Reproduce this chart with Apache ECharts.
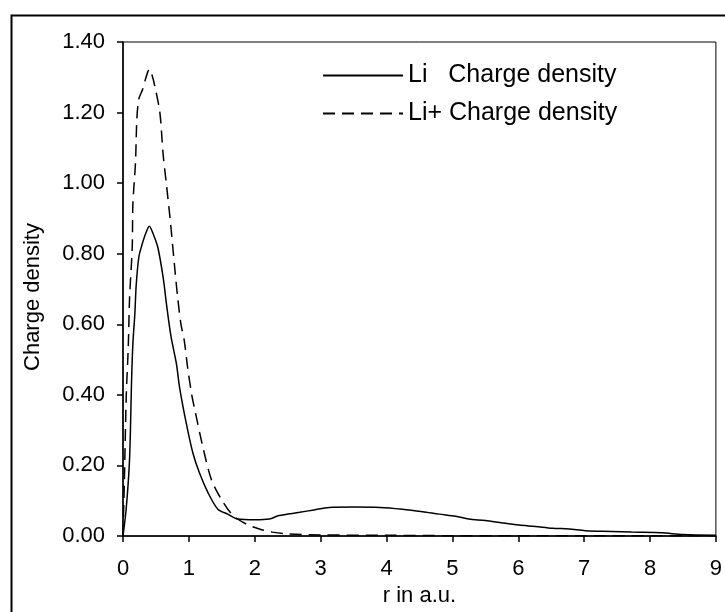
<!DOCTYPE html>
<html>
<head>
<meta charset="utf-8">
<script src="https://cdn.jsdelivr.net/npm/echarts@6/dist/echarts.min.js"></script>
<style>
html,body{margin:0;padding:0;background:#fff;}
#chart{width:725px;height:612px;}
</style>
</head>
<body>
<div id="chart"></div>
<script>
// ---- data ----
const liR = [0, 0.05, 0.1, 0.13, 0.15, 0.18, 0.2, 0.24, 0.28, 0.34, 0.4, 0.46, 0.53, 0.61, 0.66, 0.73, 0.81, 0.86, 0.96, 1.06, 1.16, 1.29, 1.44, 1.59, 1.74, 2.0, 2.22, 2.37, 2.68, 2.9, 3.13, 3.5, 3.9, 4.24, 4.55, 4.8, 5.05, 5.25, 5.5, 5.76, 6.01, 6.26, 6.52, 6.77, 7.02, 7.42, 7.72, 8.18, 8.5, 9.0];
const liV = [0, 0.08, 0.22, 0.44, 0.545, 0.63, 0.71, 0.79, 0.82, 0.855, 0.878, 0.855, 0.817, 0.732, 0.657, 0.564, 0.489, 0.42, 0.32, 0.236, 0.179, 0.123, 0.076, 0.062, 0.048, 0.046, 0.048, 0.058, 0.067, 0.074, 0.081, 0.082, 0.081, 0.076, 0.069, 0.062, 0.056, 0.048, 0.044, 0.037, 0.031, 0.027, 0.022, 0.020, 0.015, 0.013, 0.011, 0.009, 0.004, 0.002];

const liPlusR = [0, 0.02, 0.05, 0.08, 0.1, 0.14, 0.15, 0.19, 0.21, 0.24, 0.3, 0.35, 0.4, 0.45, 0.5, 0.56, 0.61, 0.66, 0.72, 0.78, 0.83, 0.88, 0.93, 0.98, 1.04, 1.09, 1.21, 1.34, 1.49, 1.67, 1.87, 2.07, 2.27, 2.48, 3, 4, 5, 6, 7, 8, 9];
const liPlusV = [0, 0.15, 0.40, 0.536, 0.676, 0.817, 0.94, 1.06, 1.18, 1.238, 1.267, 1.30, 1.323, 1.30, 1.26, 1.20, 1.08, 0.995, 0.89, 0.77, 0.676, 0.60, 0.554, 0.479, 0.404, 0.358, 0.254, 0.161, 0.105, 0.058, 0.034, 0.020, 0.011, 0.006, 0.003, 0.002, 0.001, 0.001, 0.001, 0.001, 0.0005];

const seriesNames = ['Li   Charge density', 'Li+ Charge density'];
const xTitle = 'r in a.u.';
const yTitle = 'Charge density';

const FONT = '"Liberation Sans", Arial, sans-serif';
const zip = (a, b) => a.map((x, i) => [x, b[i]]);

const chart = echarts.init(document.getElementById('chart'), null, {renderer: 'canvas'});
chart.setOption({
  animation: false,
  backgroundColor: '#fff',
  grid: {left: 123, top: 42, width: 593, height: 498, show: true, borderColor: '#000', borderWidth: 1, backgroundColor: 'transparent'},
  legend: {
    orient: 'vertical', left: 317, top: 58,
    itemWidth: 80, itemHeight: 14, itemGap: 13,
    itemStyle: {color: 'rgba(0,0,0,0)', borderWidth: 0, opacity: 0},
    textStyle: {fontFamily: FONT, fontSize: 25, color: '#000', lineHeight: 25},
    data: seriesNames
  },
  xAxis: {
    type: 'value', min: 0, max: 9, interval: 1,
    name: xTitle, nameLocation: 'middle', nameGap: 49,
    nameTextStyle: {fontFamily: FONT, fontSize: 22, color: '#000'},
    axisLine: {show: true, onZero: false, lineStyle: {color: '#000', width: 1.5}},
    axisTick: {show: true, inside: false, length: 6, lineStyle: {color: '#000', width: 1.5}},
    axisLabel: {fontFamily: FONT, fontSize: 22, color: '#000', margin: 22},
    splitLine: {show: false}
  },
  yAxis: {
    type: 'value', min: 0, max: 1.4, interval: 0.2,
    axisLine: {show: true, lineStyle: {color: '#000', width: 1.5}},
    axisTick: {show: true, inside: false, length: 6, lineStyle: {color: '#000', width: 1.5}},
    axisLabel: {fontFamily: FONT, fontSize: 22, color: '#000', margin: 18, formatter: v => v.toFixed(2)},
    splitLine: {show: false}
  },
  graphic: [
    {type: 'rect', left: 9, top: 13, shape: {width: 740, height: 640}, style: {fill: 'none', stroke: '#000', lineWidth: 2}, silent: true},
    {type: 'text', x: 33, y: 297, rotation: Math.PI / 2,
     style: {text: yTitle, fontFamily: FONT, fontSize: 22, fill: '#000', align: 'center', verticalAlign: 'middle'}}
  ],
  series: [
    {
      name: seriesNames[0], type: 'line', data: zip(liR, liV), showSymbol: false, symbol: 'none', smooth: 0.3,
      lineStyle: {color: '#000', width: 1.5, type: 'solid'}, itemStyle: {color: '#000'}
    },
    {
      name: seriesNames[1], type: 'line', data: zip(liPlusR, liPlusV), showSymbol: false, symbol: 'none', smooth: 0.3,
      lineStyle: {color: '#000', width: 1.5, type: [12, 7]}, itemStyle: {color: '#000'}
    }
  ]
});
</script>
</body>
</html>
